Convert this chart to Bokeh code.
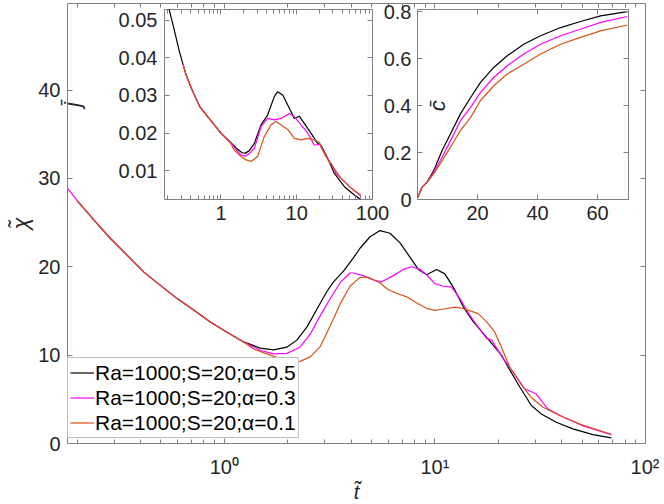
import math
from bokeh.plotting import figure
from bokeh.models import (Range1d, LogAxis, LinearAxis, FixedTicker, Legend,
                          LegendItem, Label)
from bokeh.embed import file_html
from bokeh.resources import INLINE

# ---------------- data: main panel (chi vs t) ----------------
series_labels = ["Ra=1000;S=20;α=0.5", "Ra=1000;S=20;α=0.3", "Ra=1000;S=20;α=0.1"]

t_a05 = [0.2, 0.24, 0.288, 0.346, 0.415, 0.497, 0.597, 0.715, 0.858, 1.03,
         1.235, 1.48, 1.71, 1.98, 2.21, 2.47, 2.75, 3.07, 3.3, 3.68,
         4.1, 4.41, 4.92, 5.49, 6.12, 6.83, 7.61, 8.34, 9.13, 10.19,
         11.15, 12.22, 13.62, 15.2, 17.6, 20.7, 22.7, 25.3, 28.7, 32.0,
         37.7, 45.2, 56.3, 68.8]
chi_a05 = [27.5, 25.3, 23.2, 21.3, 19.4, 17.9, 16.4, 15.1, 13.75, 12.6,
           11.5, 10.8, 10.6, 10.9, 11.7, 13.2, 15.2, 17.2, 18.3, 19.5,
           21.0, 22.1, 23.4, 24.1, 23.8, 22.7, 21.1, 19.7, 19.1, 19.7,
           19.2, 17.7, 15.5, 13.8, 12.0, 10.0, 8.3, 6.4, 4.3, 3.35,
           2.4, 1.66, 1.0, 0.64]

t_a03 = [0.18, 0.2, 0.24, 0.288, 0.346, 0.415, 0.497, 0.597, 0.715, 0.858,
         1.03, 1.28, 1.48, 1.71, 1.98, 2.29, 2.56, 2.86, 3.2, 3.55,
         3.95, 4.1, 4.57, 5.1, 5.59, 6.35, 7.08, 7.75, 8.49, 9.13,
         10.0, 10.95, 12.0, 13.14, 14.39, 15.8, 17.6, 18.6, 21.1, 23.5,
         26.7, 30.3, 34.4, 40.6, 50.5, 68.8]
chi_a03 = [28.9, 27.5, 25.3, 23.2, 21.3, 19.4, 17.9, 16.4, 15.1, 13.75,
           12.6, 11.3, 10.55, 10.15, 10.2, 10.9, 12.4, 14.5, 16.5, 18.2,
           19.3, 19.3, 19.0, 18.5, 18.3, 19.0, 19.7, 20.0, 19.7, 19.1,
           18.1, 17.8, 17.7, 16.4, 14.8, 13.4, 11.9, 11.7, 9.6, 8.1,
           6.2, 5.6, 3.9, 3.0, 2.0, 1.0]

t_a01 = [0.2, 0.24, 0.288, 0.346, 0.415, 0.497, 0.597, 0.715, 0.858, 1.03,
         1.235, 1.38, 1.59, 1.84, 2.13, 2.29, 2.56, 2.86, 3.18, 3.55,
         3.95, 4.41, 4.83, 5.39, 6.01, 6.58, 7.34, 8.19, 9.13, 10.0,
         11.15, 12.44, 13.14, 14.13, 16.05, 17.58, 19.25, 20.7, 22.7, 25.3,
         28.7, 32.6, 39.1, 48.7, 60.5, 68.8]
chi_a01 = [27.5, 25.3, 23.2, 21.3, 19.4, 17.9, 16.4, 15.1, 13.75, 12.6,
           11.5, 10.7, 10.15, 9.6, 9.2, 9.3, 9.8, 11.0, 13.3, 15.8,
           17.8, 18.8, 18.8, 18.3, 17.4, 17.0, 16.6, 15.9, 15.3, 15.06,
           15.25, 15.44, 15.36, 15.15, 14.7, 13.8, 12.6, 10.9, 8.6, 6.9,
           5.2, 4.1, 3.17, 2.2, 1.47, 1.05]

# ---------------- data: left inset (j vs t) ----------------
jt_a05 = [0.18, 0.208, 0.242, 0.28, 0.315, 0.35, 0.41, 0.52, 0.667, 0.85,
          1.0, 1.355, 1.6, 1.9, 2.1, 2.35, 2.76, 3.38, 4.13, 5.06,
          5.61, 6.53, 7.99, 9.3, 10.8, 12.6, 15.4, 18.9, 20.9, 25.7,
          31.4, 42.6, 57.7, 70.0]
j_a05 = [0.0560, 0.0527, 0.0474, 0.0420, 0.0383, 0.0352, 0.0318, 0.0272, 0.0244, 0.0218,
         0.0200, 0.0175, 0.0160, 0.0148, 0.0147, 0.0153, 0.0173, 0.0222, 0.0248, 0.0297,
         0.0310, 0.0301, 0.0266, 0.0239, 0.0245, 0.0226, 0.0200, 0.0173, 0.0168, 0.0133,
         0.0093, 0.0058, 0.0036, 0.0024]

jt_a03 = [0.315, 0.35, 0.41, 0.52, 0.667, 0.85, 1.0, 1.355, 1.6, 1.84,
          2.1, 2.35, 2.76, 3.38, 4.13, 5.06, 6.2, 7.99, 9.3, 11.4,
          14.0, 17.1, 19.9, 24.4, 29.9, 33.0, 36.6, 52.2, 70.0]
j_a03 = [0.0383, 0.0352, 0.0318, 0.0272, 0.0244, 0.0218, 0.0200, 0.0174, 0.0155, 0.0142,
         0.0139, 0.0145, 0.0160, 0.0217, 0.0239, 0.0235, 0.0239, 0.0252, 0.0244, 0.0222,
         0.0200, 0.0168, 0.0171, 0.0138, 0.0113, 0.0093, 0.0084, 0.0055, 0.0033]

jt_a01 = [0.315, 0.35, 0.41, 0.52, 0.667, 0.85, 1.0, 1.355, 1.5, 1.84,
          2.15, 2.49, 3.05, 3.74, 4.58, 5.33, 6.2, 7.6, 9.3, 11.4,
          14.0, 17.1, 19.9, 22.0, 25.7, 38.5, 52.2, 70.0]
j_a01 = [0.0383, 0.0352, 0.0318, 0.0272, 0.0244, 0.0218, 0.0200, 0.0172, 0.0155, 0.0138,
         0.0129, 0.0125, 0.0138, 0.0191, 0.0222, 0.0231, 0.0222, 0.0210, 0.0186, 0.0182,
         0.0186, 0.0182, 0.0176, 0.0155, 0.0130, 0.0080, 0.0054, 0.0036]

# ---------------- data: right inset (c vs t) ----------------
ct = [0.1, 1.5, 3.2, 5.4, 8.2, 11.0, 14.3, 17.7, 21.0, 25.4, 29.9, 35.4, 41.0, 47.7, 54.3, 61.0, 69.9]
c_a05 = [0.01, 0.052, 0.074, 0.123, 0.209, 0.280, 0.365, 0.435, 0.499, 0.563, 0.613, 0.662, 0.698, 0.733, 0.759, 0.783, 0.801]
c_a03 = [0.01, 0.052, 0.074, 0.116, 0.180, 0.251, 0.336, 0.393, 0.457, 0.520, 0.570, 0.620, 0.662, 0.698, 0.726, 0.755, 0.780]
c_a01 = [0.01, 0.052, 0.074, 0.109, 0.166, 0.223, 0.294, 0.350, 0.422, 0.485, 0.535, 0.577, 0.620, 0.662, 0.691, 0.719, 0.744]

# ---------------- ticks ----------------
main_xticks = [1, 10, 100]
main_xlabels = ["10⁰", "10¹", "10²"]
main_yticks = [0, 10, 20, 30, 40]
main_ylabels = ["0", "10", "20", "30", "40"]
j_xticks = [1, 10, 100]
j_xlabels = ["1", "10", "100"]
j_yticks = [0.01, 0.02, 0.03, 0.04, 0.05]
j_ylabels = ["0.01", "0.02", "0.03", "0.04", "0.05"]
c_xticks = [20, 40, 60]
c_xlabels = ["20", "40", "60"]
c_yticks = [0, 0.2, 0.4, 0.6, 0.8]
c_ylabels = ["0", "0.2", "0.4", "0.6", "0.8"]

# ---------------- styling ----------------
FONT = "Liberation Sans"
TXT = "#262626"
FRAME = "#808080"
COLORS = ["#000000", "#ff00ff", "#d95319"]
LW = 1.2


def log_minor(lo, hi):
    vals = []
    for d in range(-1, 2):
        for k in range(2, 10):
            v = k * 10.0 ** d
            if lo < v < hi:
                vals.append(v)
    return vals


def style_axis(ax, ticks, minor=(), labels=None, size="20px", standoff=7, show=True):
    ax.ticker = FixedTicker(ticks=list(ticks), minor_ticks=list(minor))
    ax.axis_line_color = None
    ax.major_tick_in = 5
    ax.major_tick_out = 0
    ax.minor_tick_in = 4
    ax.minor_tick_out = 0
    ax.major_tick_line_color = FRAME
    ax.minor_tick_line_color = FRAME
    ax.major_label_text_font = FONT
    ax.major_label_text_color = TXT
    ax.axis_label_text_font = FONT
    ax.axis_label_text_color = TXT
    ax.axis_label_text_font_style = "italic"
    ax.axis_label_text_font_size = "22px"
    if show:
        ax.major_label_text_font_size = size
        ax.major_label_standoff = standoff
        if labels is not None:
            ax.major_label_overrides = {tk: lb for tk, lb in zip(ticks, labels)}
    else:
        ax.major_label_text_font_size = "1px"
        ax.major_label_standoff = 0
        ax.major_label_text_alpha = 0
        ax.major_label_overrides = {tk: "" for tk in ticks}


def base_fig(**kw):
    f = figure(output_backend="svg", toolbar_location=None, **kw)
    f.xgrid.visible = False
    f.ygrid.visible = False
    f.outline_line_color = FRAME
    f.outline_line_width = 1
    f.background_fill_color = "white"
    return f


# ---------------- main figure ----------------
p = base_fig(frame_width=578, frame_height=440, x_axis_type="log",
             x_range=Range1d(0.18, 100), y_range=Range1d(0, 49.8),
             min_border_left=64, min_border_right=14,
             min_border_top=3, min_border_bottom=50)
p.border_fill_color = "white"
mx = log_minor(0.18, 100)
style_axis(p.below[0], main_xticks, mx, main_xlabels, standoff=12)
p.below[0].axis_label = "t̃"
p.below[0].axis_label_standoff = 0
p.below[0].axis_label_text_font_size = "20px"
style_axis(p.left[0], main_yticks, [], main_ylabels, standoff=7)
p.left[0].axis_label = "χ̃"
p.left[0].axis_label_standoff = 2
top_ax = LogAxis()
style_axis(top_ax, main_xticks, mx, show=False)
p.add_layout(top_ax, "above")
right_ax = LinearAxis()
style_axis(right_ax, main_yticks, show=False)
p.add_layout(right_ax, "right")

r05 = p.line(t_a05, chi_a05, line_color=COLORS[0], line_width=LW)
r03 = p.line(t_a03, chi_a03, line_color=COLORS[1], line_width=LW)
r01 = p.line(t_a01, chi_a01, line_color=COLORS[2], line_width=LW)

legend = Legend(items=[LegendItem(label=series_labels[0], renderers=[r05]),
                       LegendItem(label=series_labels[1], renderers=[r03]),
                       LegendItem(label=series_labels[2], renderers=[r01])],
                location=(0, 5), orientation="vertical",
                label_text_font=FONT, label_text_font_size="21px",
                label_text_color="#000000", glyph_width=24, glyph_height=25,
                label_height=25, label_standoff=1, spacing=0, padding=2,
                margin=0, border_line_color=FRAME, border_line_width=1,
                background_fill_color="white", background_fill_alpha=1.0)
p.add_layout(legend)
p.styles = {"position": "absolute", "left": "3px", "top": "0px"}

# ---------------- left inset ----------------
pj = base_fig(frame_width=208, frame_height=190, x_axis_type="log",
              x_range=Range1d(0.18, 100), y_range=Range1d(0.0024, 0.0528),
              min_border_left=118, min_border_right=18,
              min_border_top=10, min_border_bottom=30)
pj.border_fill_color = None
jmx = log_minor(0.18, 100)
style_axis(pj.below[0], j_xticks, jmx, j_xlabels, standoff=6)
style_axis(pj.left[0], j_yticks, [], j_ylabels, standoff=7)
pj.left[0].axis_label = "j̄"
pj.left[0].axis_label_standoff = 31
jt_ax = LogAxis()
style_axis(jt_ax, j_xticks, jmx, show=False)
pj.add_layout(jt_ax, "above")
jr_ax = LinearAxis()
style_axis(jr_ax, j_yticks, show=False)
pj.add_layout(jr_ax, "right")
pj.line(jt_a05, j_a05, line_color=COLORS[0], line_width=LW)
pj.line(jt_a03, j_a03, line_color=COLORS[1], line_width=LW)
pj.line(jt_a01, j_a01, line_color=COLORS[2], line_width=LW)
pj.styles = {"position": "absolute", "left": "46px", "top": "-1px"}

# ---------------- right inset ----------------
pc = base_fig(frame_width=211, frame_height=190,
              x_range=Range1d(0, 70.3), y_range=Range1d(0, 0.81),
              min_border_left=40, min_border_right=14,
              min_border_top=10, min_border_bottom=30)
pc.border_fill_color = None
style_axis(pc.below[0], c_xticks, [], c_xlabels, standoff=6)
style_axis(pc.left[0], c_yticks, [], c_ylabels, standoff=6)
ct_ax = LinearAxis()
style_axis(ct_ax, c_xticks, show=False)
pc.add_layout(ct_ax, "above")
cr_ax = LinearAxis()
style_axis(cr_ax, c_yticks, show=False)
pc.add_layout(cr_ax, "right")
pc.line(ct, c_a05, line_color=COLORS[0], line_width=LW)
pc.line(ct, c_a03, line_color=COLORS[1], line_width=LW)
pc.line(ct, c_a01, line_color=COLORS[2], line_width=LW)
pc.add_layout(Label(x=6.7, y=0.40, text="c̄", angle=math.pi / 2,
                    text_align="center", text_baseline="middle",
                    text_font=FONT, text_font_size="22px",
                    text_font_style="italic", text_color=TXT))
pc.styles = {"position": "absolute", "left": "377px", "top": "-1px"}

open("out.html", "w").write(file_html([p, pj, pc], INLINE))
